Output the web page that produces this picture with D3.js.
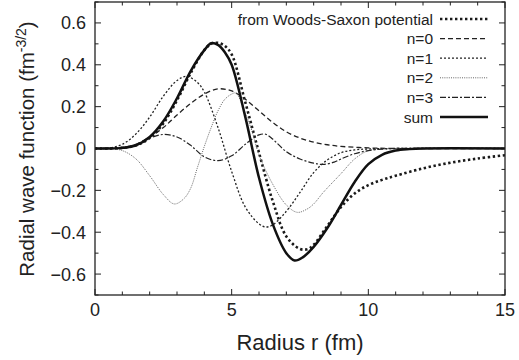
<!DOCTYPE html>
<html>
<head>
<meta charset="utf-8">
<script src="https://cdn.jsdelivr.net/npm/d3@7"></script>
<style>
  body { margin: 0; background: #fff; }
  svg { display: block; font-family: "Liberation Sans", Arial, sans-serif; }
</style>
</head>
<body>
<svg id="chart"></svg>
<script>
// [radius (fm), value]
const woodsSaxon = [[0,0],[0.5,0],[1,0.003],[1.5,0.015],[2,0.05],[2.5,0.12],[3,0.23],[3.5,0.36],[4,0.47],[4.25,0.5],[4.5,0.505],[4.75,0.49],[5,0.45],[5.5,0.22],[6,-0.02],[6.5,-0.25],[7,-0.42],[7.5,-0.48],[7.8,-0.48],[8,-0.46],[8.5,-0.37],[9,-0.28],[9.5,-0.215],[10,-0.175],[10.5,-0.15],[11,-0.13],[12,-0.095],[13,-0.068],[14,-0.048],[15,-0.032]];
const n0 = [[0,0],[0.5,0],[1,0.005],[1.5,0.02],[2,0.055],[2.5,0.1],[3,0.16],[3.5,0.215],[4,0.26],[4.5,0.285],[5,0.275],[5.5,0.235],[6,0.18],[6.5,0.125],[7,0.08],[7.5,0.05],[8,0.03],[8.5,0.018],[9,0.01],[10,0.003],[11,0],[15,0]];
const n1 = [[0,0],[0.5,0.002],[1,0.02],[1.5,0.07],[2,0.15],[2.5,0.25],[3,0.325],[3.35,0.345],[3.75,0.315],[4,0.27],[4.5,0.1],[5,-0.11],[5.5,-0.28],[6,-0.36],[6.25,-0.375],[6.5,-0.365],[7,-0.3],[7.5,-0.21],[8,-0.115],[8.5,-0.055],[9,-0.02],[9.5,-0.007],[10,-0.002],[11,0],[15,0]];
const n2 = [[0,0],[0.5,0],[1,-0.01],[1.5,-0.05],[2,-0.13],[2.5,-0.22],[2.9,-0.265],[3.25,-0.24],[3.5,-0.19],[3.75,-0.09],[4,0.01],[4.25,0.1],[4.5,0.18],[4.75,0.235],[5,0.26],[5.15,0.265],[5.5,0.17],[5.75,0.08],[6,-0.03],[6.5,-0.17],[7,-0.27],[7.4,-0.305],[7.75,-0.29],[8,-0.265],[8.35,-0.21],[9,-0.12],[9.5,-0.05],[10,-0.01],[10.5,-0.003],[11,0],[15,0]];
const n3 = [[0,0],[1,0.005],[1.5,0.02],[2,0.05],[2.5,0.067],[3,0.055],[3.5,0.015],[4,-0.04],[4.5,-0.058],[5,-0.035],[5.5,0.02],[6,0.065],[6.25,0.068],[6.5,0.045],[7,-0.015],[7.5,-0.05],[8,-0.07],[8.35,-0.076],[8.75,-0.065],[9,-0.05],[9.5,-0.025],[10,-0.01],[10.5,-0.003],[11,0],[15,0]];
const sum = [[0,0],[0.5,0],[1,0.003],[1.5,0.015],[2,0.055],[2.5,0.13],[3,0.24],[3.5,0.37],[4,0.47],[4.25,0.503],[4.5,0.495],[4.75,0.46],[5,0.4],[5.5,0.15],[6,-0.14],[6.5,-0.36],[7,-0.5],[7.3,-0.535],[7.6,-0.52],[8,-0.47],[8.5,-0.38],[9,-0.27],[9.5,-0.16],[10,-0.075],[10.5,-0.03],[11,-0.01],[11.5,-0.003],[12,0],[15,0]];

const seriesNames = ["from Woods-Saxon potential", "n=0", "n=1", "n=2", "n=3", "sum"];
const seriesData = [woodsSaxon, n0, n1, n2, n3, sum];
const xTicks = [0, 5, 10, 15];
const yTicks = [-0.6, -0.4, -0.2, 0, 0.2, 0.4, 0.6];

const styles = [
  { color: "#1a1a1a", width: 2.6, dash: "2.4,2.6" },
  { color: "#222", width: 1.3, dash: "5,3" },
  { color: "#222", width: 1.3, dash: "2,2" },
  { color: "#666", width: 1, dash: "1,1.2" },
  { color: "#222", width: 1.2, dash: "6,2,2,2" },
  { color: "#111", width: 2.5, dash: null }
];

const W = 519, H = 360;
const plotLeft = 95, plotRight = 505, plotTop = 2, plotBottom = 295;

const svg = d3.select("#chart").attr("width", W).attr("height", H);

const x = d3.scaleLinear().domain([0, 15]).range([plotLeft, plotRight]);
const y = d3.scaleLinear().domain([-0.7, 0.7]).range([plotBottom, plotTop]);

// ticks on all four sides, pointing in
const minorX = d3.range(0, 15.01, 1);
const minorY = d3.range(-0.7, 0.701, 0.1).map(v => Math.round(v * 10) / 10);
const tickG = svg.append("g").attr("stroke", "#222").attr("stroke-width", 1);
minorX.forEach(v => {
  const len = xTicks.includes(v) ? 6 : 3.5;
  tickG.append("line").attr("x1", x(v)).attr("x2", x(v)).attr("y1", plotBottom).attr("y2", plotBottom - len);
  tickG.append("line").attr("x1", x(v)).attr("x2", x(v)).attr("y1", plotTop).attr("y2", plotTop + len);
});
minorY.forEach(v => {
  const len = yTicks.some(t => Math.abs(t - v) < 1e-6) ? 6 : 3.5;
  tickG.append("line").attr("x1", plotLeft).attr("x2", plotLeft + len).attr("y1", y(v)).attr("y2", y(v));
  tickG.append("line").attr("x1", plotRight).attr("x2", plotRight - len).attr("y1", y(v)).attr("y2", y(v));
});

svg.append("g").selectAll("text").data(xTicks).enter().append("text")
  .attr("x", d => x(d)).attr("y", 316)
  .attr("text-anchor", "middle").attr("font-size", 18).attr("fill", "#222")
  .text(d => d);

svg.append("g").selectAll("text").data(yTicks).enter().append("text")
  .attr("x", 86).attr("y", d => y(d) + 6.5)
  .attr("text-anchor", "end").attr("font-size", 18).attr("fill", "#222")
  .text(d => d === 0 ? "0" : d3.format(".1f")(d));

svg.append("defs").append("clipPath").attr("id", "plot")
  .append("rect").attr("x", plotLeft).attr("y", plotTop).attr("width", plotRight - plotLeft).attr("height", plotBottom - plotTop);

const line = d3.line().x(d => x(d[0])).y(d => y(d[1])).curve(d3.curveCatmullRom.alpha(0.5));

const plot = svg.append("g").attr("clip-path", "url(#plot)");
seriesData.forEach((data, i) => {
  plot.append("path")
    .datum(data)
    .attr("fill", "none")
    .attr("stroke", styles[i].color)
    .attr("stroke-width", styles[i].width)
    .attr("stroke-dasharray", styles[i].dash)
    .attr("d", line);
});

svg.append("rect")
  .attr("x", plotLeft).attr("y", plotTop).attr("width", plotRight - plotLeft).attr("height", plotBottom - plotTop)
  .attr("fill", "none").attr("stroke", "#222").attr("stroke-width", 1.3);

// legend
const legend = svg.append("g");
seriesNames.forEach((name, i) => {
  const ly = 19 + i * 19.6;
  legend.append("text")
    .attr("x", 433).attr("y", ly + 5.5)
    .attr("text-anchor", "end").attr("font-size", 15.5).attr("fill", "#222")
    .text(name);
  legend.append("line")
    .attr("x1", 440).attr("x2", 488).attr("y1", ly).attr("y2", ly)
    .attr("stroke", styles[i].color)
    .attr("stroke-width", styles[i].width)
    .attr("stroke-dasharray", styles[i].dash);
});

svg.append("text")
  .attr("x", 300).attr("y", 350)
  .attr("text-anchor", "middle").attr("font-size", 22).attr("fill", "#222")
  .text("Radius r (fm)");

const yLabel = svg.append("text")
  .attr("transform", "translate(34,149) rotate(-90)")
  .attr("text-anchor", "middle").attr("font-size", 20.5).attr("fill", "#222");
yLabel.append("tspan").text("Radial wave function (fm");
yLabel.append("tspan").attr("dy", -8).attr("font-size", 14).text("-3/2");
yLabel.append("tspan").attr("dy", 8).text(")");
</script>
</body>
</html>
